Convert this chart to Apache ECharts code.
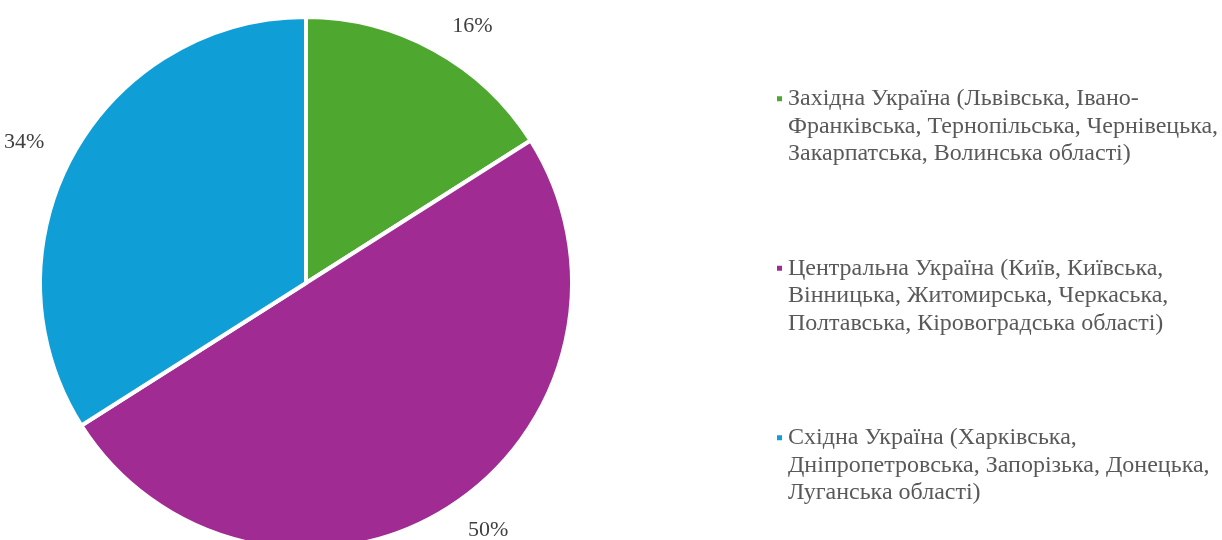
<!DOCTYPE html>
<html>
<head>
<meta charset="utf-8">
<script src="https://cdn.jsdelivr.net/npm/echarts@6/dist/echarts.min.js"></script>
<style>
html, body { margin: 0; padding: 0; background: #fff; }
#chart { width: 1222px; height: 540px; }
</style>
</head>
<body>
<div id="chart"></div>
<script>
// регіони та частки, %
var regions = [
  'Західна Україна (Львівська, Івано-\nФранківська, Тернопільська, Чернівецька,\nЗакарпатська, Волинська області)',
  'Центральна Україна (Київ, Київська,\nВінницька, Житомирська, Черкаська,\nПолтавська, Кіровоградська області)',
  'Східна Україна (Харківська,\nДніпропетровська, Запорізька, Донецька,\nЛуганська області)'
];
var shares = [16, 50, 34];
var colors = ['#4ea72e', '#a02b93', '#0f9ed5'];

var pieData = regions.map(function (name, i) {
  return { name: name, value: shares[i] };
});

var option = {
  color: colors,
  animation: false,
  legend: {
    orient: 'vertical',
    left: 770,
    top: 25,
    icon: 'rect',
    itemWidth: 7,
    itemHeight: 7,
    itemGap: 32,
    selectedMode: false,
    // дві порожні лінії зверху, щоб маркер стояв біля першого рядка
    formatter: function (name) { return '\n\n' + name; },
    textStyle: {
      fontFamily: 'Liberation Serif',
      fontSize: 24,
      lineHeight: 27.5,
      color: '#595959'
    },
    data: regions
  },
  series: [
    {
      type: 'pie',
      center: [306, 283],
      radius: 266,
      startAngle: 90,
      clockwise: true,
      avoidLabelOverlap: false,
      itemStyle: {
        borderColor: '#fff',
        borderWidth: 4
      },
      label: {
        show: true,
        position: 'outside',
        formatter: '{d}%',
        fontFamily: 'Liberation Serif',
        fontSize: 22,
        color: '#404040'
      },
      labelLine: {
        show: false,
        length: 27,
        length2: 0
      },
      emphasis: { disabled: true },
      data: pieData
    }
  ]
};

var chart = echarts.init(document.getElementById('chart'));
chart.setOption(option);
</script>
</body>
</html>
